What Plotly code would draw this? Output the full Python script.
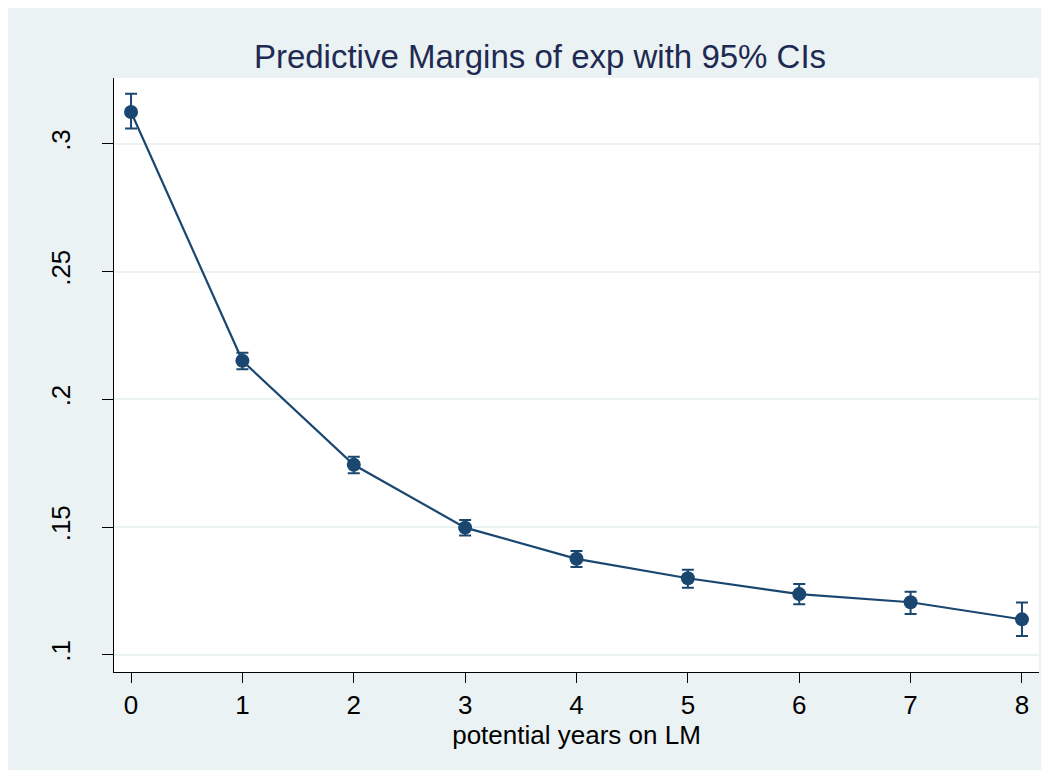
import plotly.graph_objects as go

# Data
years = [0, 1, 2, 3, 4, 5, 6, 7, 8]
margin = [0.3125, 0.2151, 0.1744, 0.1498, 0.1376, 0.1300, 0.1238, 0.1206, 0.1139]
ci_upper = [0.3196, 0.2183, 0.1776, 0.1528, 0.1407, 0.1333, 0.1277, 0.1247, 0.1205]
ci_lower = [0.3060, 0.2118, 0.1711, 0.1467, 0.1344, 0.1263, 0.1198, 0.1160, 0.1074]

y_tickvals = [0.1, 0.15, 0.2, 0.25, 0.3]
y_ticktext = [".1", ".15", ".2", ".25", ".3"]
x_tickvals = [0, 1, 2, 3, 4, 5, 6, 7, 8]

NAVY = "#1a476f"
BG = "#eaf2f3"
FONT = "Arial, Liberation Sans, sans-serif"

W, H = 1049, 770
L, R, T, B = 106, 18, 70, 106
pw = W - L - R

err_plus = [u - m for u, m in zip(ci_upper, margin)]
err_minus = [m - l for m, l in zip(margin, ci_lower)]

fig = go.Figure()
fig.add_trace(go.Scatter(
    x=years, y=margin, mode="lines+markers",
    line=dict(color=NAVY, width=2.2),
    marker=dict(color=NAVY, size=14),
    error_y=dict(type="data", symmetric=False, array=err_plus, arrayminus=err_minus,
                 color=NAVY, thickness=2, width=6),
    showlegend=False,
))

fig.update_layout(
    width=W, height=H,
    margin=dict(l=L, r=R, t=T, b=B),
    paper_bgcolor=BG, plot_bgcolor="white",
    font=dict(family=FONT, color="black"),
    title=dict(text="Predictive Margins of exp with 95% CIs",
               font=dict(size=33, color="#1e2a52", family=FONT),
               x=(532 - L) / pw, xref="paper", xanchor="center",
               y=1 - 48 / H, yref="container", yanchor="middle"),
    xaxis=dict(range=[-0.153, 8.153], tickvals=x_tickvals,
               showgrid=False, zeroline=False,
               showline=True, linecolor="black", linewidth=1,
               ticks="outside", ticklen=10, tickcolor="black", tickwidth=1,
               tickfont=dict(size=26, family=FONT),
               title=dict(text="potential years on LM", font=dict(size=26, family=FONT), standoff=0)),
    yaxis=dict(range=[0.0933, 0.3258], tickvals=y_tickvals, ticktext=y_ticktext,
               tickangle=-90, ticklabelstandoff=22,
               showgrid=True, gridcolor=BG, gridwidth=2, zeroline=False,
               showline=True, linecolor="black", linewidth=1,
               ticks="outside", ticklen=11, tickcolor="black", tickwidth=1,
               tickfont=dict(size=26, family=FONT)),
)

fig.write_html("out.html")
